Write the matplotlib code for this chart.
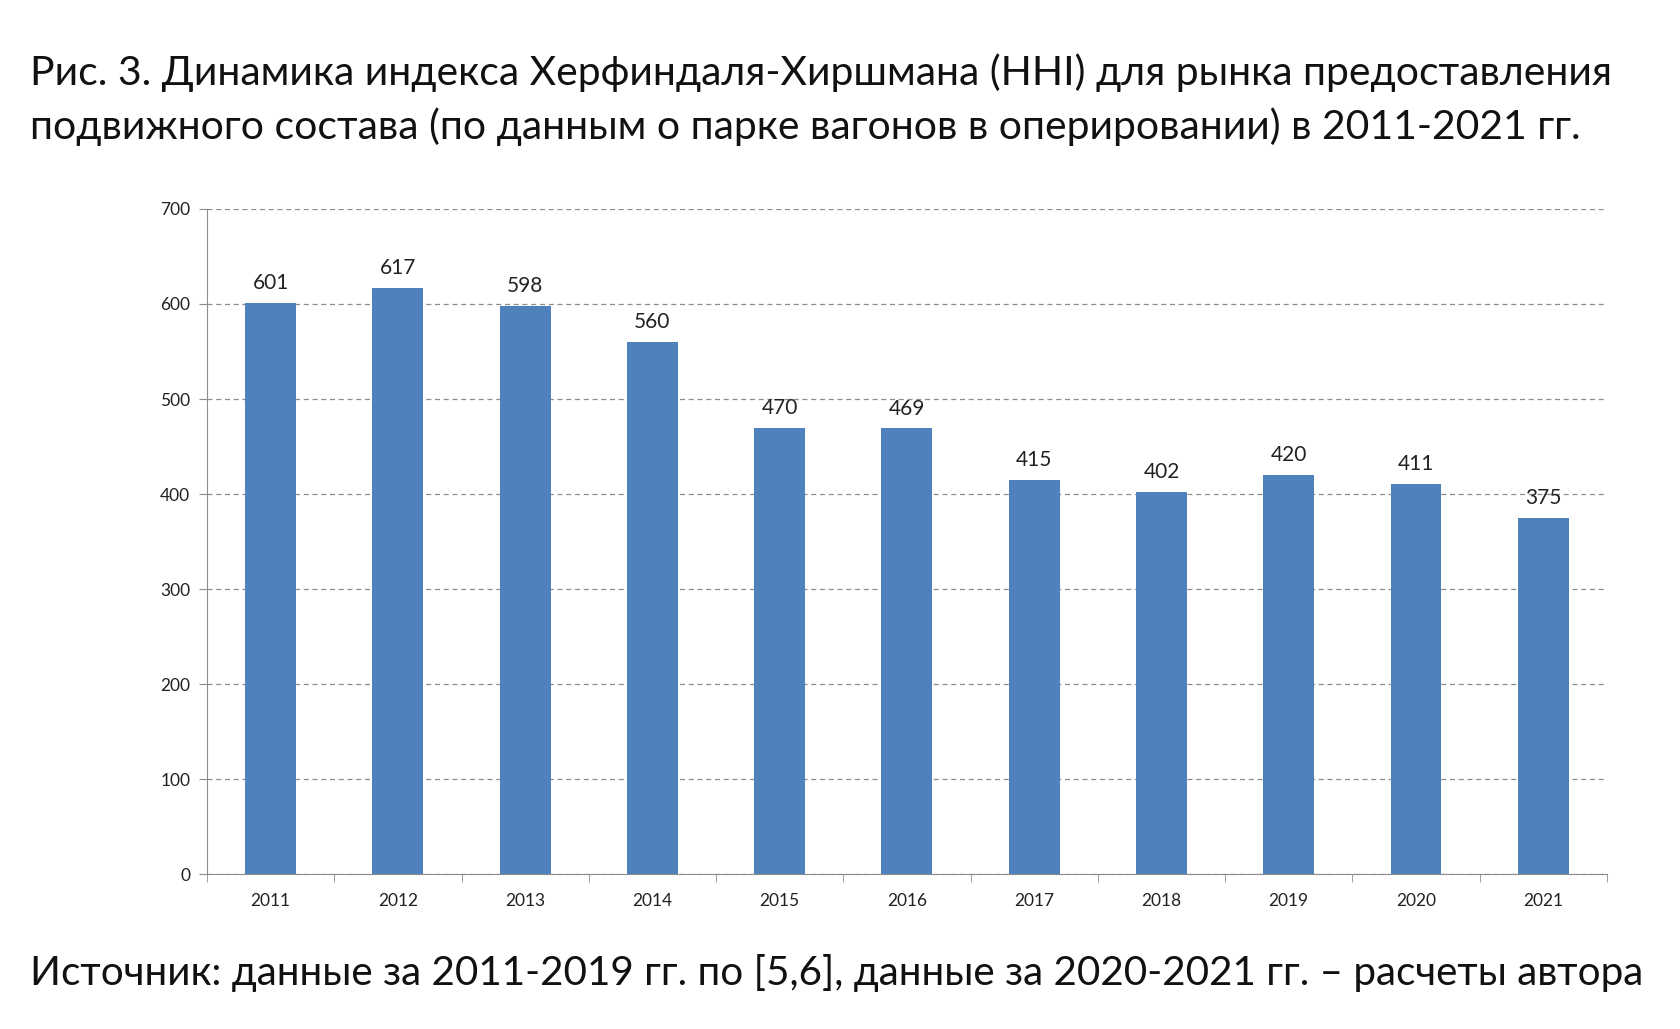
#!/usr/bin/env python3
# -*- coding: utf-8 -*-
import matplotlib

matplotlib.use("Agg")
import matplotlib.pyplot as plt

plt.rcParams["font.family"] = ["Lato", "DejaVu Sans"]

years = ["2011", "2012", "2013", "2014", "2015", "2016",
         "2017", "2018", "2019", "2020", "2021"]
hhi = [601, 617, 598, 560, 470, 469, 415, 402, 420, 411, 375]
yticks = [0, 100, 200, 300, 400, 500, 600, 700]

title_lines = [
    "Рис. 3. Динамика индекса Херфиндаля-Хиршмана (HHI) для рынка предоставления",
    "подвижного состава (по данным о парке вагонов в оперировании) в 2011-2021 гг.",
]
source = "Источник: данные за 2011-2019 гг. по [5,6], данные за 2020-2021 гг. – расчеты автора"

BAR = "#4F81BD"
GRID = "#8c8c8c"

fig = plt.figure(figsize=(16.8, 10.29), dpi=100)
ax = fig.add_axes([0.1232, 0.1506, 0.8333, 0.6463])

x = range(len(years))
ax.bar(x, hhi, width=0.4, color=BAR, zorder=3)
for xi, v in zip(x, hhi):
    ax.annotate(str(v), (xi, v), xytext=(0, 7), textcoords="offset points",
                ha="center", va="bottom", fontsize=15, color="#222222", zorder=4)

ax.set_xlim(-0.5, len(years) - 0.5)
ax.set_ylim(0, 700)
ax.set_yticks(yticks)
ax.set_xticks(list(x))
ax.set_xticklabels(years)
ax.set_xticks([i - 0.5 for i in range(len(years) + 1)], minor=True)
ax.tick_params(axis="x", which="major", length=0, pad=14, labelsize=12.5, labelcolor="#222222")
ax.tick_params(axis="x", which="minor", length=6, color=GRID, direction="out")
ax.tick_params(axis="y", length=6, color=GRID, labelsize=12.5, labelcolor="#222222", pad=6)

ax.yaxis.grid(True, linestyle=(0, (4, 3)), color=GRID, linewidth=0.9, zorder=0)
for s in ["top", "right"]:
    ax.spines[s].set_visible(False)
ax.spines["left"].set_color(GRID)
ax.spines["bottom"].set_color(GRID)

for yy, line in zip([0.929, 0.877], title_lines):
    fig.text(0.018, yy, line, ha="left", va="center", fontsize=29.4, color="#111111")
fig.text(0.018, 0.0545, source, ha="left", va="center", fontsize=29.1, color="#111111")

fig.savefig("out.png", dpi=100)
